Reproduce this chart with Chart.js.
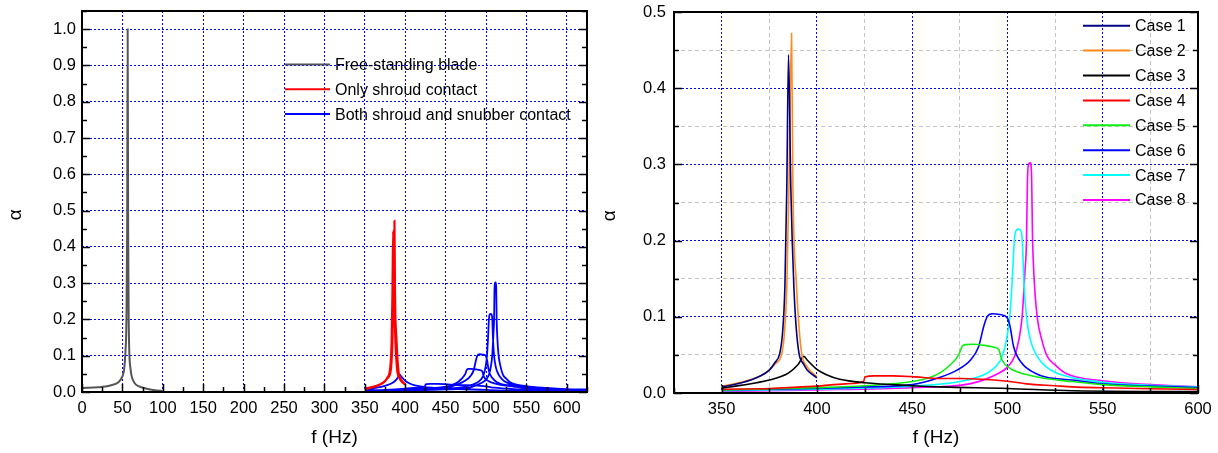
<!DOCTYPE html>
<html>
<head>
<meta charset="utf-8">
<script src="https://cdn.jsdelivr.net/npm/chart.js@4.4.1/dist/chart.umd.min.js"></script>
<style>
  html, body { margin: 0; padding: 0; background: #fff; }
  #wrap { position: relative; width: 1218px; height: 453px; }
  .box { position: absolute; top: 0; height: 453px; }
  #left { left: 0; width: 595px; }
  #right { left: 595px; width: 623px; }
</style>
</head>
<body>
<div id="wrap">
  <div class="box" id="left"><canvas id="chartLeft"></canvas></div>
  <div class="box" id="right"><canvas id="chartRight"></canvas></div>
</div>
<script>
// frequency (Hz), alpha pairs
const freeBlade = [[0,0.011],[20,0.013],[35,0.018],[45,0.027],[50,0.043],[52,0.06],[53.7,0.107],[55,0.2],[55.9,0.45],[56.5,1.0],[57.1,0.45],[57.8,0.2],[58.6,0.107],[60,0.065],[61.5,0.043],[65,0.025],[70,0.016],[80,0.009],[90,0.005],[100,0.003]];

const case1 = [[350,0.008],[360,0.013],[370,0.022],[375,0.03],[378,0.04],[380.5,0.052],[382,0.08],[383.2,0.14],[384.2,0.27],[385.1,0.444],[386.3,0.27],[387.9,0.14],[389,0.09],[390.6,0.052],[393,0.038],[395,0.03],[400,0.02]];
const case2 = [[350,0.009],[360,0.014],[370,0.022],[375,0.03],[378,0.038],[381.6,0.052],[383,0.08],[384.2,0.14],[385.3,0.27],[386.7,0.472],[387.4,0.27],[389.3,0.14],[390.5,0.09],[392,0.052],[395,0.034],[400,0.021]];
const case3 = [[350,0.0065],[360,0.01],[375,0.017],[385,0.026],[390,0.037],[393.2,0.048],[395,0.043],[400,0.031],[405,0.024],[412,0.018],[425,0.0135],[450,0.0096],[465,0.008],[500,0.006],[534,0.003],[600,0.002],[625,0.002]];
const case4 = [[350,0.005],[375,0.006],[400,0.009],[415,0.012],[424.5,0.015],[425.2,0.021],[430,0.0225],[440,0.0225],[450,0.0215],[465,0.019],[475,0.019],[500,0.0155],[510,0.012],[525,0.0095],[534,0.008],[550,0.0068],[575,0.0055],[600,0.0045],[625,0.004]];
const case5 = [[350,0.004],[400,0.007],[425,0.0095],[450,0.015],[460,0.021],[465,0.027],[470,0.037],[474.4,0.05],[476.2,0.061],[478,0.0635],[482,0.064],[488,0.0625],[493,0.06],[495.4,0.057],[497.2,0.043],[501.6,0.032],[505,0.028],[510.4,0.024],[520,0.019],[534,0.015],[550,0.011],[575,0.008],[600,0.006],[625,0.005]];
const case6 = [[350,0.004],[400,0.006],[425,0.008],[450,0.011],[464.7,0.0206],[473.5,0.03],[480.5,0.043],[484.9,0.061],[487.5,0.087],[489.3,0.1],[492,0.104],[496,0.103],[499.8,0.099],[501.4,0.087],[503.2,0.061],[507.6,0.039],[514.6,0.026],[520,0.021],[534,0.017],[550,0.012],[575,0.009],[600,0.007],[625,0.006]];
const case7 = [[350,0.003],[400,0.005],[450,0.009],[475,0.015],[489.3,0.026],[494,0.035],[497.2,0.048],[499.5,0.07],[501.2,0.1],[502.5,0.148],[503.6,0.2],[504.5,0.213],[505.8,0.215],[507,0.213],[507.8,0.2],[508.6,0.148],[510,0.1],[512,0.07],[515.6,0.048],[520,0.035],[526,0.026],[550,0.014],[575,0.01],[600,0.008],[625,0.007]];
const case8 = [[350,0.002],[400,0.004],[450,0.007],[480,0.012],[495.4,0.026],[500,0.034],[503.7,0.048],[506,0.07],[507.7,0.1],[509.2,0.16],[510,0.2],[510.5,0.28],[511.2,0.301],[512,0.302],[512.6,0.29],[513.2,0.2],[514,0.15],[515.6,0.1],[518,0.07],[520.9,0.048],[525,0.037],[530.5,0.026],[550,0.016],[575,0.011],[600,0.008],[625,0.007]];

const leftLabels = ["Free-standing blade", "Only shroud contact", "Both shroud and snubber contact"];
const leftColors = ["#555555", "#ff0000", "#0000ff"];
const caseLabels = ["Case 1", "Case 2", "Case 3", "Case 4", "Case 5", "Case 6", "Case 7", "Case 8"];
const caseColors = ["#000080", "#ff8c1a", "#000000", "#ff0000", "#11ee11", "#0000ff", "#00ffff", "#ff00ff"];
const allCases = [case1, case2, case3, case4, case5, case6, case7, case8];

Chart.defaults.font.family = '"Liberation Sans", Arial, sans-serif';
Chart.defaults.font.size = 16.5;
Chart.defaults.color = "#000";

const BLUE_GRID = "#0000ff";
const GRAY_GRID = "#c4c4c4";

function toPoints(curve) {
  return curve.map(p => ({ x: p[0], y: p[1] }));
}

// several curves in one series, broken by a null point
function joinCurves(curves) {
  let out = [];
  curves.forEach((c, i) => {
    if (i > 0) out.push({ x: c[0][0], y: null });
    out = out.concat(toPoints(c));
  });
  return out;
}

function isTenth(v) {
  return Math.abs(v * 10 - Math.round(v * 10)) < 1e-6;
}
function isFifty(v) {
  return Math.abs(v / 50 - Math.round(v / 50)) < 1e-6;
}

const frameTicks = {
  id: "frameTicks",
  afterDatasetsDraw(chart) {
    const { ctx, chartArea: a, scales } = chart;
    ctx.save();
    ctx.strokeStyle = "#000";
    ctx.lineWidth = 1.5;
    ctx.beginPath();
    scales.x.ticks.forEach(t => {
      const px = Math.round(scales.x.getPixelForValue(t.value)) + 0.5;
      const len = isFifty(t.value) ? 8 : 5;
      ctx.moveTo(px, a.bottom);
      ctx.lineTo(px, a.bottom - len);
    });
    scales.y.ticks.forEach(t => {
      const py = Math.round(scales.y.getPixelForValue(t.value)) + 0.5;
      const len = isTenth(t.value) ? 8 : 5;
      ctx.moveTo(a.left, py);
      ctx.lineTo(a.left + len, py);
      ctx.moveTo(a.right, py);
      ctx.lineTo(a.right - len, py);
    });
    ctx.stroke();
    ctx.lineWidth = 2;
    ctx.strokeRect(a.left, a.top, a.right - a.left, a.bottom - a.top);
    ctx.restore();
  }
};

const inlineLegend = {
  id: "inlineLegend",
  afterDatasetsDraw(chart, args, opts) {
    const ctx = chart.ctx;
    ctx.save();
    ctx.font = '16px "Liberation Sans", Arial, sans-serif';
    ctx.textBaseline = "middle";
    ctx.fillStyle = "#000";
    chart.data.datasets.forEach((ds, i) => {
      const y = opts.y + i * opts.step;
      ctx.strokeStyle = ds.borderColor;
      ctx.lineWidth = 2;
      ctx.beginPath();
      ctx.moveTo(opts.x, y);
      ctx.lineTo(opts.x + opts.len, y);
      ctx.stroke();
      ctx.fillText(ds.label, opts.x + opts.len + 5, y + 1);
    });
    ctx.restore();
  }
};

function axisX(min, max, minorColor, height) {
  return {
    type: "linear",
    min: min,
    max: max,
    ticks: {
      stepSize: 25,
      autoSkip: false,
      maxRotation: 0,
      padding: 7,
      callback: v => (isFifty(v) ? v : "")
    },
    grid: {
      drawTicks: false,
      lineWidth: 1,
      color: c => (c.tick && c.tick.value !== min ? (isFifty(c.tick.value) ? BLUE_GRID : minorColor) : "rgba(0,0,0,0)")
    },
    border: {
      display: false,
      dash: c => (c.tick && isFifty(c.tick.value) ? [2, 2] : [4, 3])
    },
    title: { display: true, text: "f (Hz)", font: { size: 19 }, padding: { top: 0, bottom: 4 } },
    afterFit: s => {
      s.height = height;
      s.paddingLeft = 0;
      s.paddingRight = 0;
    }
  };
}

function axisY(max, minorColor, width, labelPad, titlePad) {
  return {
    min: 0,
    max: max,
    ticks: {
      stepSize: 0.05,
      autoSkip: false,
      padding: labelPad,
      callback: v => (isTenth(v) ? v.toFixed(1) : "")
    },
    grid: {
      drawTicks: false,
      lineWidth: 1,
      color: c => (c.tick && c.tick.value > 0 ? (isTenth(c.tick.value) ? BLUE_GRID : minorColor) : "rgba(0,0,0,0)")
    },
    border: {
      display: false,
      dash: c => (c.tick && isTenth(c.tick.value) ? [2, 2] : [4, 3])
    },
    // trailing spaces push the rotated symbol a little below the middle, as in the original
    title: { display: true, text: "α     ", font: { size: 19 }, padding: { top: titlePad, bottom: 0 } },
    afterFit: s => {
      s.width = width;
      s.paddingTop = 0;
      s.paddingBottom = 0;
    }
  };
}

new Chart(document.getElementById("chartLeft"), {
  type: "line",
  data: {
    datasets: [
      { label: leftLabels[0], data: toPoints(freeBlade), borderColor: leftColors[0], borderWidth: 2 },
      { label: leftLabels[1], data: joinCurves([case1, case2]), borderColor: leftColors[1], borderWidth: 2.2 },
      { label: leftLabels[2], data: joinCurves([case3, case4, case5, case6, case7, case8]), borderColor: leftColors[2], borderWidth: 1.8 }
    ]
  },
  options: {
    responsive: true,
    maintainAspectRatio: false,
    animation: false,
    devicePixelRatio: 1,
    layout: { padding: { left: 0, right: 8, top: 11, bottom: 0 } },
    elements: {
      point: { radius: 0 },
      line: { cubicInterpolationMode: "monotone", fill: false }
    },
    scales: {
      x: axisX(0, 625, "rgba(0,0,0,0)", 61),
      y: axisY(1.05, "rgba(0,0,0,0)", 82, 6, 4.3)
    },
    plugins: {
      legend: { display: false },
      tooltip: { enabled: false },
      inlineLegend: { x: 285, y: 64.5, step: 24.8, len: 45 }
    }
  },
  plugins: [frameTicks, inlineLegend]
});

new Chart(document.getElementById("chartRight"), {
  type: "line",
  data: {
    datasets: allCases.map((c, i) => ({
      label: caseLabels[i],
      data: toPoints(c),
      borderColor: caseColors[i],
      borderWidth: 1.6
    }))
  },
  options: {
    responsive: true,
    maintainAspectRatio: false,
    animation: false,
    devicePixelRatio: 1,
    layout: { padding: { left: 0, right: 20, top: 12, bottom: 0 } },
    elements: {
      point: { radius: 0 },
      line: { cubicInterpolationMode: "monotone", fill: false }
    },
    scales: {
      x: axisX(325, 600, GRAY_GRID, 60),
      y: axisY(0.5, GRAY_GRID, 79, 8, 3.6)
    },
    plugins: {
      legend: { display: false },
      tooltip: { enabled: false },
      inlineLegend: { x: 488, y: 25.7, step: 24.9, len: 47 }
    }
  },
  plugins: [frameTicks, inlineLegend]
});
</script>
</body>
</html>
